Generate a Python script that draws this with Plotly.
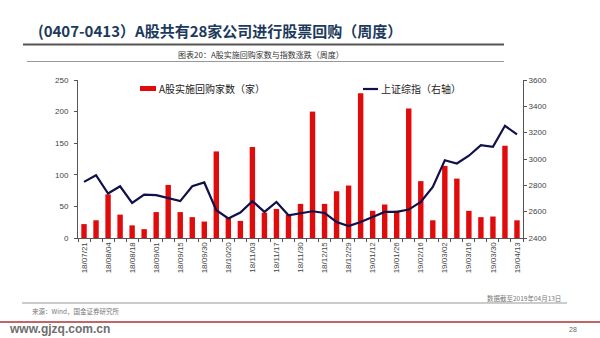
import plotly.graph_objects as go

# Weekly periods (week ending dates)
weeks = [
    "18/07/21", "18/07/28", "18/08/04", "18/08/11", "18/08/18", "18/08/25",
    "18/09/01", "18/09/08", "18/09/15", "18/09/22", "18/09/30", "18/10/13",
    "18/10/20", "18/10/27", "18/11/03", "18/11/10", "18/11/17", "18/11/24",
    "18/11/30", "18/12/08", "18/12/15", "18/12/22", "18/12/29", "19/01/05",
    "19/01/12", "19/01/19", "19/01/26", "19/02/02", "19/02/16", "19/02/23",
    "19/03/02", "19/03/09", "19/03/16", "19/03/23", "19/03/30", "19/04/06",
    "19/04/13",
]

# Number of A-share companies carrying out buybacks each week
buyback_count = [
    22, 28, 69, 37, 20, 14, 41, 84, 41, 33, 26, 137,
    32, 27, 144, 40, 46, 37, 54, 200, 54, 74, 83, 229,
    43, 53, 43, 205, 90, 28, 114, 94, 43, 33, 34, 146,
    28,
]

# Shanghai Composite weekly close (right axis)
sh_index = [
    2826, 2877, 2738, 2793, 2666, 2730, 2725, 2700, 2680, 2793, 2822, 2611,
    2548, 2593, 2680, 2598, 2674, 2573, 2586, 2603, 2590, 2522, 2491, 2522,
    2560, 2598, 2598, 2616, 2674, 2788, 2991, 2966, 3025, 3105, 3093, 3252,
    3187,
]

left_ticks = [0, 50, 100, 150, 200, 250]
right_ticks = [2400, 2600, 2800, 3000, 3200, 3400, 3600]

BAR_NAME = "A股实施回购家数（家）"
LINE_NAME = "上证综指（右轴）"
BAR_COLOR = "#E00B0B"
LINE_COLOR = "#10104A"
CJK = "Noto Sans CJK SC"
LAT = "Liberation Sans, Arial, sans-serif"

W, H = 600, 338
PL, PR, PT, PB = 78, 523, 80, 238


def px(x):
    return (x - PL) / (PR - PL)


def py(y):
    return (PB - y) / (PB - PT)


fig = go.Figure()
fig.add_trace(go.Bar(
    x=weeks, y=buyback_count, name=BAR_NAME,
    marker=dict(color=BAR_COLOR, line=dict(width=0)),
    width=0.45, yaxis="y",
))
fig.add_trace(go.Scatter(
    x=weeks, y=sh_index, name=LINE_NAME, mode="lines",
    line=dict(color=LINE_COLOR, width=2.2), yaxis="y2",
))

tick_text = [w if i % 2 == 0 else "" for i, w in enumerate(weeks)]

fig.update_layout(
    width=W, height=H,
    margin=dict(l=PL, r=W - PR, t=PT, b=H - PB),
    paper_bgcolor="white", plot_bgcolor="white",
    showlegend=False,
    bargap=0.5,
    xaxis=dict(
        type="category", tickmode="array", tickvals=weeks, ticktext=tick_text,
        tickangle=-90, tickson="boundaries", ticks="outside", ticklen=3,
        tickcolor="#555", showline=True, linecolor="#555", linewidth=1,
        showgrid=False, tickfont=dict(family=LAT, size=8, color="#444"),
        range=[-0.5, len(weeks) - 0.5],
    ),
    yaxis=dict(
        range=[0, 250], tickvals=left_ticks, showgrid=False, zeroline=False,
        showline=True, linecolor="#555", linewidth=1, ticks="outside",
        ticklen=3, tickcolor="#555", ticklabelstandoff=4,
        tickfont=dict(family=LAT, size=8, color="#444"),
    ),
    yaxis2=dict(
        range=[2400, 3600], tickvals=right_ticks, overlaying="y", side="right",
        showgrid=False, zeroline=False, showline=True, linecolor="#555",
        linewidth=1, ticks="outside", ticklen=3, tickcolor="#555",
        tickfont=dict(family=LAT, size=8, color="#444"),
    ),
)

shapes = []
annotations = []


def hline(y, x0, x1, color, width):
    shapes.append(dict(type="line", xref="paper", yref="paper",
                       x0=px(x0), x1=px(x1), y0=py(y), y1=py(y),
                       line=dict(color=color, width=width)))


def text(s, x, y, size, color, anchor="left", family=CJK, bold=False):
    annotations.append(dict(
        text=f"<b>{s}</b>" if bold else s, xref="paper", yref="paper",
        x=px(x), y=py(y), xanchor=anchor, yanchor="middle", showarrow=False,
        font=dict(family=family, size=size, color=color),
    ))


# Page header
text("(0407-0413）A股共有28家公司进行股票回购（周度）", 36, 30, 15, "#1D3A5C", bold=True)
hline(44.5, 23, 504, "#555555", 2)
text("图表20：A股实施回购家数与指数涨跌（周度）", 261, 54, 8, "#333333", anchor="center")
hline(61.5, 27, 504, "#999999", 1)

# Legend
shapes.append(dict(type="rect", xref="paper", yref="paper",
                   x0=px(140), x1=px(156), y0=py(91), y1=py(86),
                   fillcolor=BAR_COLOR, line=dict(width=0)))
text(BAR_NAME, 157, 88.5, 10, "#222222")
hline(89, 363, 378, LINE_COLOR, 2.2)
text(LINE_NAME, 379, 88.5, 10, "#222222")

# Footer
text("数据截至2019年04月13日", 563, 298, 6.5, "#777777", anchor="right")
hline(303, 22, 567, "#999999", 1)
text("来源：Wind，国金证券研究所", 30, 311, 6.5, "#777777")
hline(322, 0, 600, "#B03030", 1.5)
text("www.gjzq.com.cn", 7, 329, 12, "#6E6E6E", family=LAT, bold=True)
text("28", 567, 329, 7, "#666666", family=LAT)

fig.update_layout(shapes=shapes, annotations=annotations)

fig.write_html("out.html")
